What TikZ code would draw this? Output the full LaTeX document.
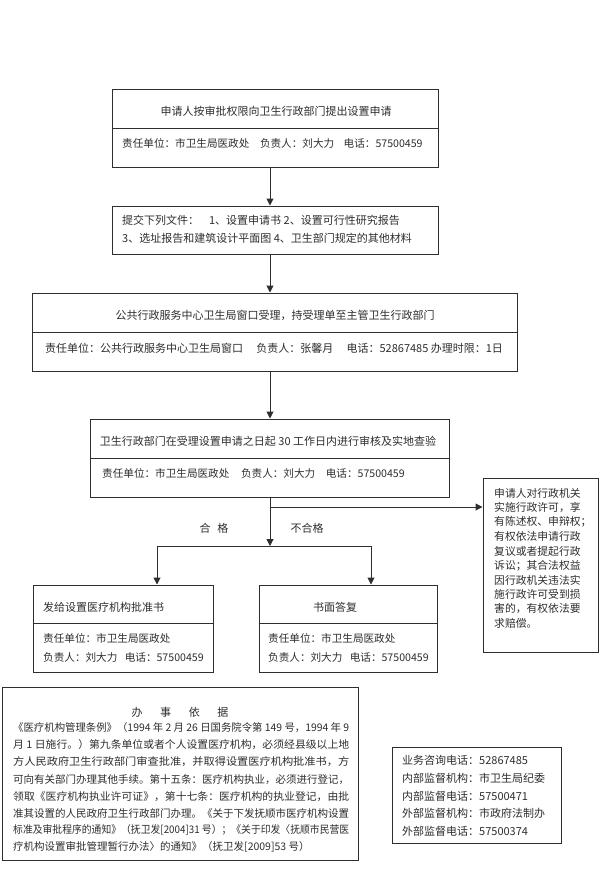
\documentclass[tikz,border=0pt]{standalone}
\usepackage{fontspec}
\setmainfont{Noto Sans CJK SC}
\usepackage{graphicx}
\usetikzlibrary{arrows.meta}
\definecolor{ink}{gray}{0.18}
\newcommand\jline[1]{\resizebox{336pt}{\height}{#1}}
\begin{document}
\begin{tikzpicture}[x=1pt,y=-1pt,
  box/.style={draw=ink,line width=1pt,inner sep=0pt},
  txt/.style={inner sep=0pt,anchor=west,text=ink,font=\fontsize{11}{13}\selectfont},
  stxt/.style={txt,font=\fontsize{10.6}{13}\selectfont},
  ctxt/.style={txt,anchor=center},
  ptxt/.style={txt,font=\fontsize{10.5}{12}\selectfont},
  divider/.style={draw=ink,line width=1pt},
  conn/.style={draw=ink,line width=1pt},
  arr/.style={conn,-{Triangle[length=7pt,width=7pt]}}]
\useasboundingbox (0,0) rectangle (605,891);
\fill[white] (0,0) rectangle (605,891);
% boxes
\node[box,minimum width=326pt,minimum height=78pt] (b1) at (275,128) {};
\node[box,minimum width=326pt,minimum height=48pt] (b2) at (275,230) {};
\node[box,minimum width=485pt,minimum height=78pt] (b3) at (274.5,332) {};
\node[box,minimum width=359pt,minimum height=78pt] (b4) at (269.5,458) {};
\node[box,minimum width=115pt,minimum height=174pt] (rb) at (540.5,565) {};
\node[box,minimum width=180pt,minimum height=87pt] (bl) at (123,628.5) {};
\node[box,minimum width=178pt,minimum height=87pt] (br) at (348,628.5) {};
\node[box,minimum width=356pt,minimum height=173pt] (law) at (180,773.5) {};
\node[box,minimum width=169pt,minimum height=96pt] (info) at (476.5,795) {};
% dividers
\draw[divider] (b1.west) -- (b1.east);
\draw[divider] (b3.west) -- (b3.east);
\draw[divider] (b4.west) -- (b4.east);
\coordinate (blmid) at (0,623);
\draw[divider] (bl.west |- blmid) -- (bl.east |- blmid);
\draw[divider] (br.west |- blmid) -- (br.east |- blmid);
% texts box 1
\node[ctxt] (t1a) at (276,111) {申请人按审批权限向卫生行政部门提出设置申请};
\node[stxt] (t1b) at (122,143) {责任单位：市卫生局医政处\hspace{1em}负责人：刘大力\hspace{0.9em}电话：57500459};
% box 2
\node[txt] (t2a) at (122,220) {提交下列文件：\hspace{0.9em}1、设置申请书 2、设置可行性研究报告};
\node[txt] (t2b) at (122,238) {3、选址报告和建筑设计平面图 4、卫生部门规定的其他材料};
% box 3
\node[ctxt] (t3a) at (275,315) {公共行政服务中心卫生局窗口受理，持受理单至主管卫生行政部门};
\node[txt] (t3b) at (45,348) {责任单位：公共行政服务中心卫生局窗口\hspace{1.2em}负责人：张馨月\hspace{1.2em}电话：52867485 办理时限：1日};
% box 4
\node[ctxt] (t4a) at (268,441) {卫生行政部门在受理设置申请之日起 30 工作日内进行审核及实地查验};
\node[stxt] (t4b) at (102,473) {责任单位：市卫生局医政处\hspace{1.1em}负责人：刘大力\hspace{1em}电话：57500459};
% right box
\foreach \t [count=\i from 0] in {申请人对行政机关,实施行政许可，享,有陈述权、申辩权；,有权依法申请行政,复议或者提起行政,诉讼；其合法权益,因行政机关违法实,施行政许可受到损,害的，有权依法要,求赔偿。}
  \node[txt,font=\fontsize{10.8}{13}\selectfont] (r\i) at (494,493+14.5*\i) {\t};
% labels
\node[ctxt] (lok) at (214,528) {合\hspace{0.6em}格};
\node[ctxt] (lno) at (307,528) {不合格};
% bottom boxes
\node[txt] (t5a) at (43,607) {发给设置医疗机构批准书};
\node[stxt] (t5b) at (43,638) {责任单位：市卫生局医政处};
\node[stxt] (t5c) at (43,657) {负责人：刘大力\hspace{0.7em}电话：57500459};
\node[ctxt] (t6a) at (335,607) {书面答复};
\node[stxt] (t6b) at (268,638) {责任单位：市卫生局医政处};
\node[stxt] (t6c) at (268,657) {负责人：刘大力\hspace{0.7em}电话：57500459};
% law box
\node[ctxt] (lawt) at (180,712) {办\hspace{1.6em}事\hspace{1.6em}依\hspace{1.6em}据};
\node[ptxt] (p1) at (13,728) {\jline{《医疗机构管理条例》（1994 年 2 月 26 日国务院令第 149 号，1994 年 9}};
\node[ptxt] (p2) at (13,745) {\jline{月 1 日施行。）第九条单位或者个人设置医疗机构，必须经县级以上地}};
\node[ptxt] (p3) at (13,762) {\jline{方人民政府卫生行政部门审查批准，并取得设置医疗机构批准书，方}};
\node[ptxt] (p4) at (13,780) {\jline{可向有关部门办理其他手续。第十五条：医疗机构执业，必须进行登记，}};
\node[ptxt] (p5) at (13,797) {\jline{领取《医疗机构执业许可证》，第十七条：医疗机构的执业登记，由批}};
\node[ptxt] (p6) at (13,813) {\jline{准其设置的人民政府卫生行政部门办理。《关于下发抚顺市医疗机构设置}};
\node[ptxt] (p7) at (13,830) {\jline{标准及审批程序的通知》（抚卫发[2004]31 号）；《关于印发〈抚顺市民营医}};
\node[ptxt] (p8) at (13,847) {疗机构设置审批管理暂行办法〉的通知》（抚卫发[2009]53 号）};
% info box
\node[txt] (i1) at (402,760) {业务咨询电话：52867485};
\node[txt] (i2) at (402,778) {内部监督机构：市卫生局纪委};
\node[txt] (i3) at (402,796) {内部监督电话：57500471};
\node[txt] (i4) at (402,813) {外部监督机构：市政府法制办};
\node[txt] (i5) at (402,831) {外部监督电话：57500374};
% connectors
\coordinate (spine) at (270,0);
\draw[arr] (b1.south -| spine) -- (b2.north -| spine);
\draw[arr] (b2.south -| spine) -- (b3.north -| spine);
\draw[arr] (b3.south -| spine) -- (b4.north -| spine);
\coordinate (split) at (270,546);
\coordinate (branch) at (270,507);
\coordinate (hl) at (157,546);
\coordinate (hr) at (371,546);
\draw[arr] (b4.south -| spine) -- (split);
\draw[arr] (branch) -- (branch -| rb.west);
\draw[conn] (hl) -- (hr);
\draw[arr] (hl) -- (hl |- bl.north);
\draw[arr] (hr) -- (hr |- br.north);
\end{tikzpicture}
\end{document}
